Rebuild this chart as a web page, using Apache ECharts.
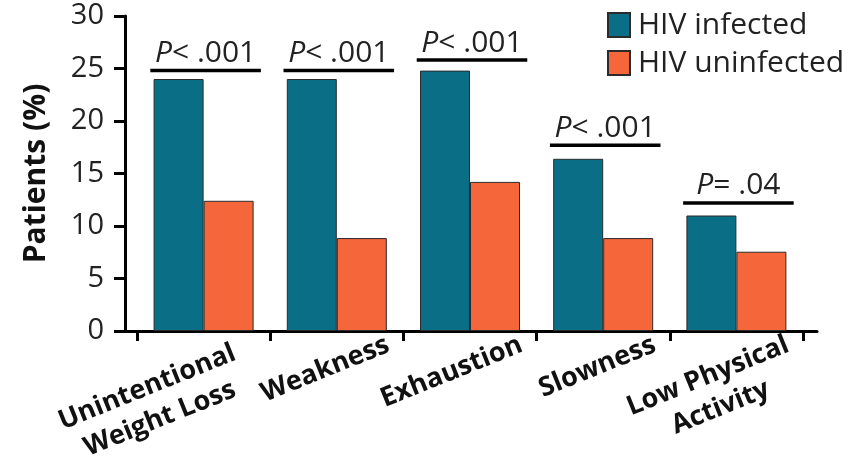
<!DOCTYPE html>
<html><head><meta charset="utf-8">
<script src="https://cdn.jsdelivr.net/npm/echarts@6/dist/echarts.min.js"></script>
<style>html,body{margin:0;padding:0;background:#fff}#c{width:858px;height:457px}</style>
</head><body><div id="c"></div>
<script>
const categories = ['Unintentional\nWeight Loss', 'Weakness', 'Exhaustion', 'Slowness', 'Low Physical\nActivity'];
const hivInfected = [24.0, 24.0, 24.8, 16.4, 11.0];
const hivUninfected = [12.4, 8.85, 14.2, 8.85, 7.55];
const pLabels = ['< .001', '< .001', '< .001', '< .001', '= .04'];
const pBarLevel = [24.8, 24.8, 25.8, 17.7, 12.2];
const seriesNames = ['HIV infected', 'HIV uninfected'];

const FONT = "'Open Sans', 'Noto Sans', sans-serif";
const TEAL = '#0B6E87';
const ORANGE = '#F5663A';
const INK = '#222';

const chart = echarts.init(document.getElementById('c'), null, {renderer: 'canvas'});

const labelRich = {align: 'center', fontSize: 27, fontWeight: 'bold', color: '#111', fontFamily: FONT, lineHeight: 34};

chart.setOption({
  animation: false,
  backgroundColor: '#fff',
  textStyle: {fontFamily: FONT},
  grid: [
    {left: 137, right: 55, top: 16, bottom: 126, outerBoundsMode: 'none', containLabel: false},
    {left: 182, right: 10, top: 16, bottom: 126, outerBoundsMode: 'none', containLabel: false},
    {left: 125, right: 41, top: 16, bottom: 126, outerBoundsMode: 'none', containLabel: false}
  ],
  legend: {
    data: seriesNames,
    orient: 'vertical',
    left: 602, top: 5,
    icon: 'rect',
    itemWidth: 22, itemHeight: 24, itemGap: 8,
    textStyle: {fontSize: 30, color: INK, fontFamily: FONT, padding: [0, 0, 0, 3]}
  },
  xAxis: [
    {
      type: 'category', gridIndex: 0, data: categories,
      axisLine: {show: false},
      axisTick: {show: true, length: 10, lineStyle: {width: 3, color: '#000'}},
      axisLabel: {show: false}
    },
    {
      type: 'category', gridIndex: 1, data: categories,
      axisLine: {show: false}, axisTick: {show: false},
      axisLabel: {
        show: true, interval: 0, rotate: 22, align: 'right', verticalAlign: 'top', margin: -3,
        formatter: (v, i) => v.split('\n').map(s => (i === 0 ? '{w|' : '{c|') + s + '}').join('\n'),
        rich: {
          c: labelRich,
          w: Object.assign({}, labelRich, {padding: [0, 22, 0, 0]})
        }
      }
    },
    {
      type: 'value', gridIndex: 2, min: 0, max: 1,
      axisLine: {show: true, onZero: false, lineStyle: {width: 3, color: '#000'}},
      axisTick: {show: false}, axisLabel: {show: false}, splitLine: {show: false}
    }
  ],
  yAxis: [
    {
      type: 'value', gridIndex: 0, min: 0, max: 30, interval: 5, offset: 12,
      axisLine: {show: true, lineStyle: {width: 3, color: '#000'}},
      axisTick: {show: true, length: 11, lineStyle: {width: 3, color: '#000'}},
      axisLabel: {fontSize: 29, color: INK, margin: 21, fontFamily: FONT},
      splitLine: {show: false},
      name: 'Patients (%)', nameLocation: 'middle', nameGap: 74,
      nameTextStyle: {fontSize: 30, fontWeight: 'bold', color: '#111', fontFamily: FONT}
    },
    {type: 'value', gridIndex: 1, show: false},
    {type: 'value', gridIndex: 2, show: false}
  ],
  series: [
    {
      name: seriesNames[0], type: 'bar', xAxisIndex: 0, yAxisIndex: 0, data: hivInfected,
      barWidth: 50, barGap: '0%',
      itemStyle: {color: TEAL, borderColor: '#2b2b2b', borderWidth: 1}
    },
    {
      name: seriesNames[1], type: 'bar', xAxisIndex: 0, yAxisIndex: 0, data: hivUninfected,
      barWidth: 50, barGap: '0%',
      itemStyle: {color: ORANGE, borderColor: '#2b2b2b', borderWidth: 1}
    },
    {
      type: 'custom', xAxisIndex: 0, yAxisIndex: 0,
      data: pBarLevel.map((v, i) => [i, v]),
      encode: {x: 0, y: 1},
      renderItem: function (params, api) {
        const idx = api.value(0);
        const pt = api.coord([idx, api.value(1)]);
        const band = api.size([1, 0])[0];
        const half = band * 0.415;
        const cx = pt[0] + 2;
        return {
          type: 'group',
          children: [
            {type: 'line', shape: {x1: cx - half, y1: pt[1], x2: cx + half, y2: pt[1]},
             style: {stroke: '#000', lineWidth: 3.5}},
            {type: 'text', x: cx, y: pt[1] - 2,
             style: {
               text: '{i|P}{n|' + pLabels[idx] + '}',
               align: 'center', verticalAlign: 'bottom',
               rich: {
                 i: {fontStyle: 'italic', fontSize: 30, fill: INK, color: INK, fontFamily: FONT},
                 n: {fontSize: 30, fill: INK, color: INK, fontFamily: FONT}
               }
             }}
          ]
        };
      }
    }
  ]
});
</script></body></html>
